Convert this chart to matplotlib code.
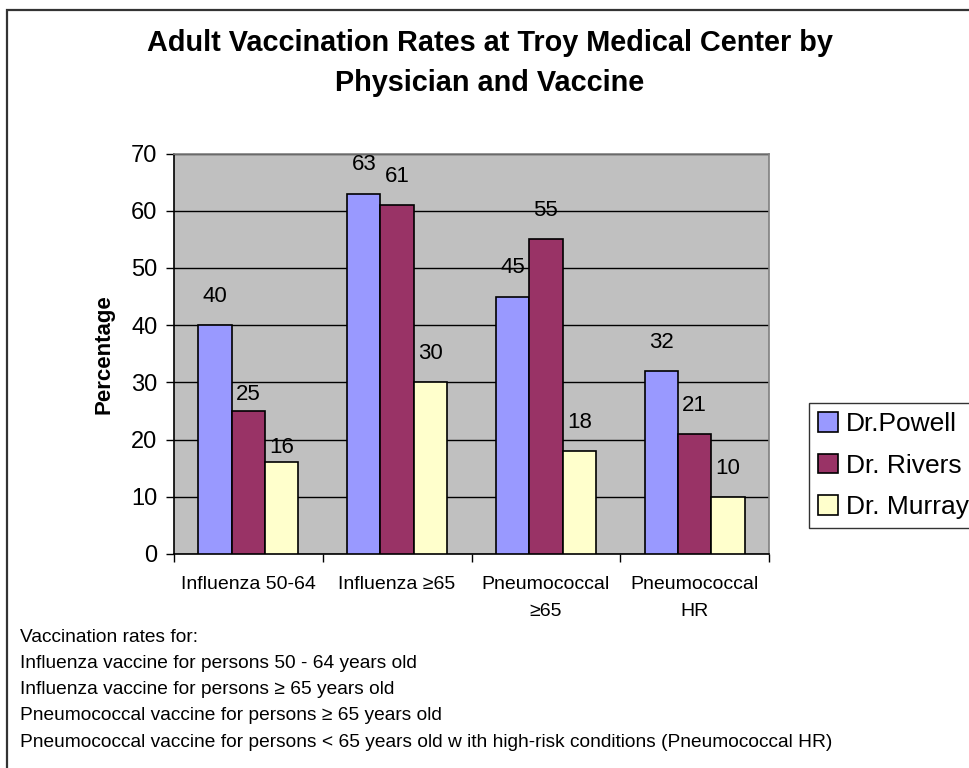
import numpy as np
import matplotlib
matplotlib.use("Agg")
import matplotlib.pyplot as plt
from matplotlib.patches import Rectangle

# ---- data ----
categories = ["Influenza 50-64", "Influenza \u226565", "Pneumococcal\n\u226565", "Pneumococcal\nHR"]
physicians = ["Dr.Powell", "Dr. Rivers", "Dr. Murray"]
powell = [40, 63, 45, 32]
rivers = [25, 61, 55, 21]
murray = [16, 30, 18, 10]
y_ticks = [0, 10, 20, 30, 40, 50, 60, 70]
title = "Adult Vaccination Rates at Troy Medical Center by\nPhysician and Vaccine"
y_label = "Percentage"
footnotes = [
    "Vaccination rates for:",
    "Influenza vaccine for persons 50 - 64 years old",
    "Influenza vaccine for persons \u2265 65 years old",
    "Pneumococcal vaccine for persons \u2265 65 years old",
    "Pneumococcal vaccine for persons < 65 years old w ith high-risk conditions (Pneumococcal HR)",
]

# ---- style ----
colors = ["#9999FF", "#993366", "#FFFFCC"]
# gap (points) between bar top and its value label, per series/category
label_gap = [[13, 13, 13, 13], [4, 13, 13, 13], [3, 13, 13, 13]]

plt.rcParams['font.family'] = ['Liberation Sans', 'DejaVu Sans']

W, H = 970, 768
fig = plt.figure(figsize=(W / 100, H / 100), dpi=100)
fig.patch.set_facecolor("white")

# outer chart border (extends beyond right and bottom edges)
fig.patches.append(Rectangle((7.5 / W, -0.1), 1.2, 1 - 9.5 / H + 0.1,
                             transform=fig.transFigure, fill=False,
                             edgecolor="#333333", linewidth=1.6, zorder=0))

ax = fig.add_axes([174 / W, 1 - 554 / H, (769 - 174) / W, (554 - 153.5) / H])
ax.set_facecolor("#C0C0C0")

x = np.arange(len(categories))
bw = 0.224
series = [powell, rivers, murray]
for i, (vals, name, col) in enumerate(zip(series, physicians, colors)):
    bars = ax.bar(x + (i - 1) * bw, vals, bw, color=col, edgecolor="black",
                  linewidth=1.2, label=name, zorder=3)
    for j, (b, v) in enumerate(zip(bars, vals)):
        ax.annotate(str(v), (b.get_x() + b.get_width() / 2, v),
                    xytext=(0, label_gap[i][j]), textcoords="offset points",
                    ha="center", va="bottom", fontsize=16, color="black", zorder=4)

ax.set_xlim(-0.5, len(categories) - 0.5)
ax.set_ylim(0, 70)
ax.set_yticks(y_ticks)
ax.yaxis.grid(True, color="black", linewidth=1.0, zorder=1)
ax.set_axisbelow(True)
ax.tick_params(axis="y", labelsize=17, length=6, width=1, direction="out", pad=6)

# category boundary ticks (major, no labels), labels at centers (minor)
ax.set_xticks(np.arange(len(categories) + 1) - 0.5)
ax.set_xticklabels([])
ax.set_xticks(x, minor=True)
ax.set_xticklabels(categories, minor=True, fontsize=14, linespacing=1.75)
ax.tick_params(axis="x", which="major", length=6, width=1, direction="out")
ax.tick_params(axis="x", which="minor", length=0, pad=16)

for s in ["left", "bottom"]:
    ax.spines[s].set_color("black")
    ax.spines[s].set_linewidth(1.2)
for s in ["top", "right"]:
    ax.spines[s].set_color("#808080")
    ax.spines[s].set_linewidth(1.2)

ax.set_ylabel(y_label, fontsize=16, fontweight="bold", labelpad=12)

fig.text(490 / W, 1 - 63 / H, title, ha="center", va="center", fontsize=20.8,
         fontweight="bold", linespacing=1.55)

for k, line in enumerate(footnotes):
    fig.text(20 / W, 1 - (637 + k * 26.3) / H, line, ha="left", va="center", fontsize=13.8)

leg = fig.legend(loc="upper left", bbox_to_anchor=(809 / W, 1 - 403 / H),
                 fontsize=19, frameon=True, fancybox=False, borderpad=0.35,
                 labelspacing=0.66, handlelength=0.75, handleheight=0.75,
                 handletextpad=0.3, borderaxespad=0)
leg.get_frame().set_edgecolor("black")
leg.get_frame().set_linewidth(1.0)

fig.savefig("out.png", dpi=100)
